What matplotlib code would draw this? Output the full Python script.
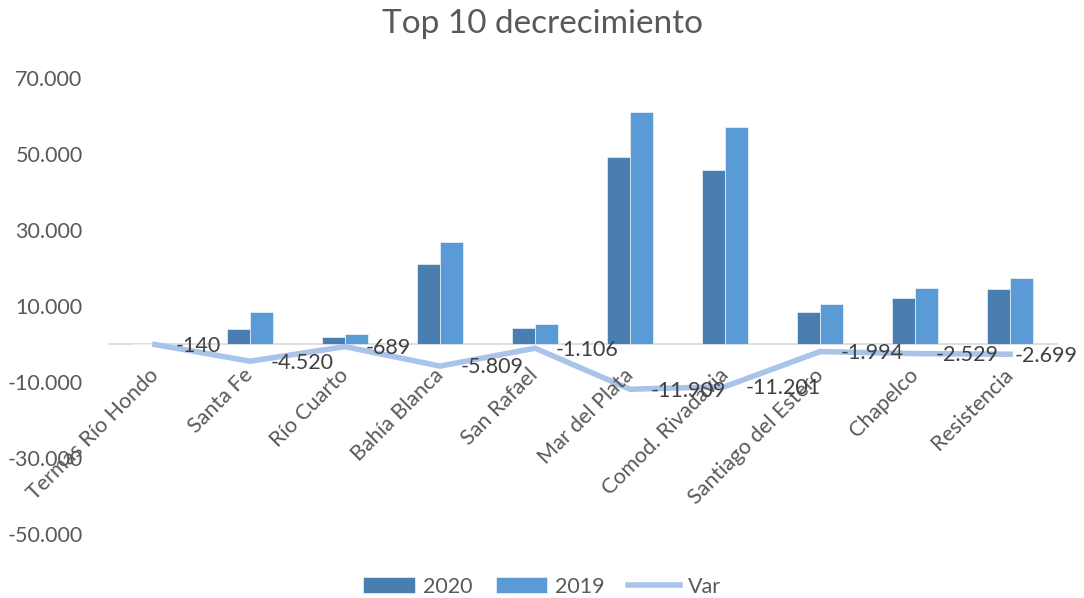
import numpy as np
import matplotlib
matplotlib.use("Agg")
import matplotlib.pyplot as plt
from matplotlib.ticker import FuncFormatter

plt.rcParams['font.family'] = ['Lato', 'DejaVu Sans']

categories = ['Termas Río Hondo', 'Santa Fe', 'Río Cuarto', 'Bahía Blanca', 'San Rafael',
              'Mar del Plata', 'Comod. Rivadavia', 'Santiago del Estero', 'Chapelco', 'Resistencia']
v2020 = [30, 3900, 1900, 21000, 4200, 49200, 45900, 8400, 12100, 14600]
v2019 = [170, 8420, 2589, 26809, 5306, 61109, 57101, 10394, 14629, 17299]
var = [-140, -4520, -689, -5809, -1106, -11909, -11201, -1994, -2529, -2699]
yticks = [-50000, -30000, -10000, 10000, 30000, 50000, 70000]

c2020 = '#4A7EB0'
c2019 = '#5B9BD5'
cvar = '#A9C4E8'
txt = '#595959'

fig = plt.figure(figsize=(10.84, 5.98), dpi=100)
ax = fig.add_axes([0.0992, 0.107, 0.8764, 0.7626])

x = np.arange(len(categories))
w = 0.24
b1 = ax.bar(x - w / 2, v2020, w, color=c2020, edgecolor='white', linewidth=0.4, label='2020', zorder=2)
b2 = ax.bar(x + w / 2, v2019, w, color=c2019, edgecolor='white', linewidth=0.4, label='2019', zorder=2)
ln, = ax.plot(x, var, color=cvar, linewidth=4, solid_joinstyle='miter', label='Var', zorder=3)

labels = []
for xi, v in zip(x, var):
    s = f"{v:,}".replace(',', '.')
    t = ax.annotate(s, (xi, v), xytext=(15, -1), textcoords='offset points',
                    ha='left', va='center', fontsize=15.5, color='#404040', zorder=4)
    labels.append(t)

ax.axhline(0, color='#D9D9D9', linewidth=1.2, zorder=1)

ax.set_xlim(-0.5, len(categories) - 0.5)
ax.set_ylim(-50000, 70000)
ax.set_yticks(yticks)
ax.yaxis.set_major_formatter(FuncFormatter(lambda v, p: f"{int(v):,}".replace(',', '.')))
ax.tick_params(axis='y', length=0, pad=18, labelsize=15.5, labelcolor=txt)
ax.set_xticks([])
for s in ax.spines.values():
    s.set_visible(False)

for xi, name in zip(x, categories):
    ax.annotate(name, (xi, 0), xytext=(-5, -15), textcoords='offset points',
                ha='right', va='top', rotation=45, rotation_mode='anchor',
                fontsize=15.5, color=txt)

fig.suptitle('Top 10 decrecimiento', x=0.5, y=0.985, fontsize=24, color=txt)

leg = fig.legend([b1, b2, ln], ['2020', '2019', 'Var'], loc='lower center',
                 bbox_to_anchor=(0.5, -0.03), ncol=3, frameon=False,
                 fontsize=15.5, handlelength=2.4, handleheight=0.7, columnspacing=1.1,
                 handletextpad=0.35)
for t in leg.get_texts():
    t.set_color(txt)

# keep data labels inside the figure, like Excel does
fig.canvas.draw()
r = fig.canvas.get_renderer()
W = fig.bbox.width
for t in labels:
    bb = t.get_window_extent(r)
    if bb.x1 > W - 6:
        dx = (bb.x1 - (W - 6)) * 72 / fig.dpi
        ox, oy = t.xyann
        t.xyann = (ox - dx, oy)

fig.savefig('out.png', dpi=100)
